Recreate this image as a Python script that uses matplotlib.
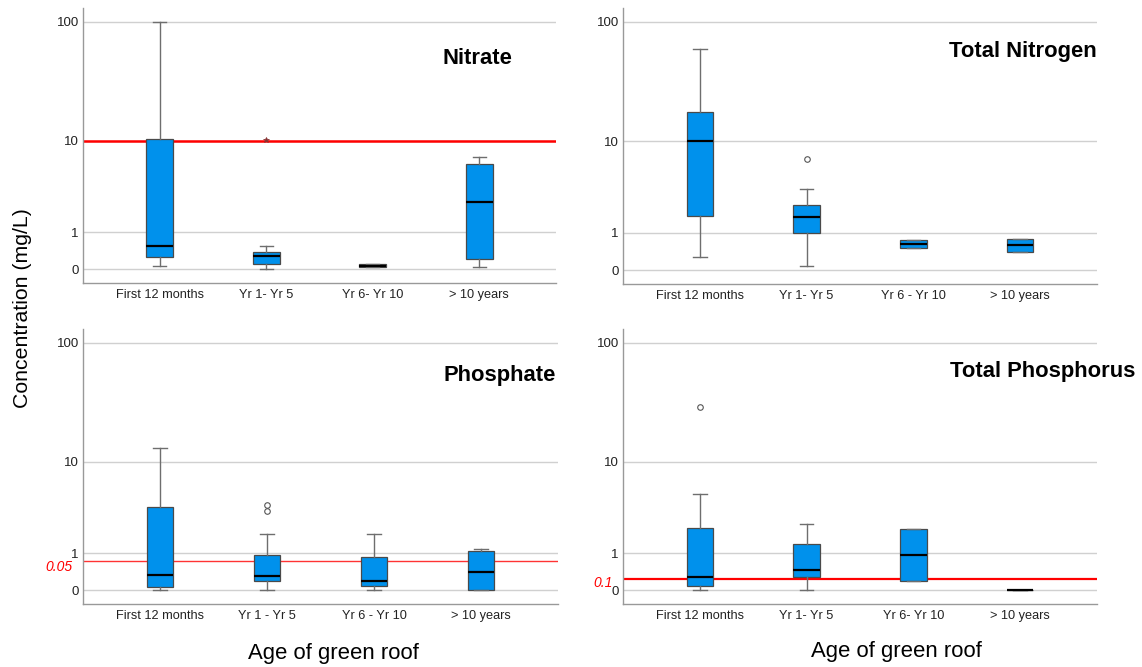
import numpy as np
import matplotlib
matplotlib.use("Agg")
import matplotlib.pyplot as plt

plt.rcParams['font.family'] = ['Liberation Sans', 'DejaVu Sans']

categories_a = ["First 12 months", "Yr 1- Yr 5", "Yr 6- Yr 10", "> 10 years"]
categories_b = ["First 12 months", "Yr 1- Yr 5", "Yr 6 - Yr 10", "> 10 years"]
categories_c = ["First 12 months", "Yr 1 - Yr 5", "Yr 6 - Yr 10", "> 10 years"]
categories_d = ["First 12 months", "Yr 1- Yr 5", "Yr 6- Yr 10", "> 10 years"]

# per group: (whislo, q1, med, q3, whishi)
nitrate = [(0.07, 0.26, 0.53, 10.4, 100.0),
           (0.005, 0.10, 0.27, 0.385, 0.55),
           (0.045, 0.045, 0.071, 0.099, 0.099),
           (0.045, 0.20, 2.48, 6.06, 7.05)]
nitrate_fliers = [[], [10.2], [], []]

total_nitrogen = [(0.278, 1.73, 10.03, 17.9, 59.9),
                  (0.07, 1.0, 1.68, 2.34, 3.51),
                  (0.498, 0.498, 0.622, 0.757, 0.757),
                  (0.392, 0.392, 0.583, 0.80, 0.80)]
total_nitrogen_fliers = [[], [6.87], [], []]

phosphate = [(0.01, 0.071, 0.332, 3.69, 13.1),
             (0.01, 0.198, 0.299, 0.935, 1.88),
             (0.0, 0.084, 0.198, 0.853, 1.88),
             (0.0, 0.0, 0.417, 1.06, 1.14)]
phosphate_fliers = [[], [3.86, 3.40], [], []]

total_phosphorus = [(0.0, 0.091, 0.275, 2.22, 4.97),
                    (0.0, 0.283, 0.47, 1.376, 2.47),
                    (0.19, 0.19, 0.922, 2.12, 2.12),
                    (0.004, 0.004, 0.004, 0.004, 0.004)]
total_phosphorus_fliers = [[29.8], [], [], []]

titles = ["Nitrate", "Total Nitrogen", "Phosphate", "Total Phosphorus"]
limits = [10.0, None, 0.73, 0.236]
limit_labels = [None, None, "0.05", "0.1"]
yticks = [0, 1, 10, 100]

fig = plt.figure(figsize=(11.42, 6.67), dpi=100)
W, H = 1142, 667

def ax_rect(l, t, r, b):
    return [l / W, 1 - b / H, (r - l) / W, (b - t) / H]

rects = [ax_rect(83, 8, 556, 283), ax_rect(623, 8, 1097, 284),
         ax_rect(83, 329, 558, 604), ax_rect(623, 329, 1097, 604)]
datasets = [(nitrate, nitrate_fliers, categories_a),
            (total_nitrogen, total_nitrogen_fliers, categories_b),
            (phosphate, phosphate_fliers, categories_c),
            (total_phosphorus, total_phosphorus_fliers, categories_d)]
title_pos = [(512, 58), (1097, 52), (556, 375), (1135, 371)]
line_styles = [dict(color='#ff0000', lw=1.8), None,
               dict(color='#ff3333', lw=1.0), dict(color='#ff0000', lw=1.6)]
label_pos = [None, None, (73, 567), (613, 583)]

fwd = lambda x: np.log10(np.clip(x, -0.999, None) + 1)
inv = lambda t: 10 ** t - 1

for i, (rect, (stats, fliers, cats)) in enumerate(zip(rects, datasets)):
    ax = fig.add_axes(rect)
    ax.set_yscale('function', functions=(fwd, inv))
    bstats = []
    for (lo, q1, med, q3, hi), fl in zip(stats, fliers):
        bstats.append(dict(whislo=lo, q1=q1, med=med, q3=q3, whishi=hi, fliers=fl))
    pos = np.arange(len(cats))
    if limits[i] is not None:
        ax.axhline(limits[i], zorder=1.5, **line_styles[i])
    if i == 0:
        fprops = dict(marker='*', markersize=4, markerfacecolor='#883333',
                      markeredgecolor='#883333', markeredgewidth=0.5)
    else:
        fprops = dict(marker='o', markersize=4, markerfacecolor='none',
                      markeredgecolor='#555555', markeredgewidth=0.8)
    ax.bxp(bstats, positions=pos, widths=0.25, capwidths=0.125,
           patch_artist=True, showfliers=True,
           boxprops=dict(facecolor='#0091EC', edgecolor='#4a4a4a', lw=0.9),
           medianprops=dict(color='black', lw=1.6),
           whiskerprops=dict(color='#6e6e6e', lw=1.0),
           capprops=dict(color='#6e6e6e', lw=1.0),
           flierprops=fprops,
           zorder=2)
    ax.set_xlim(-0.72, 3.72)
    ax.set_ylim(inv(-0.112), inv(2.117))
    ax.set_xticks(pos)
    ax.set_xticklabels(cats, fontsize=9.2, color='#222222')
    ax.set_yticks(yticks)
    ax.set_yticklabels([str(v) for v in yticks], fontsize=9.5, color='#222222')
    ax.minorticks_off()
    ax.tick_params(axis='both', length=0)
    ax.tick_params(axis='x', pad=4)
    ax.tick_params(axis='y', pad=3)
    ax.grid(axis='y', color='#d0d0d0', lw=1.0, zorder=0)
    ax.set_axisbelow(True)
    for s in ['top', 'right']:
        ax.spines[s].set_visible(False)
    for s in ['left', 'bottom']:
        ax.spines[s].set_color('#999999')
        ax.spines[s].set_linewidth(1.0)
    tx, ty = title_pos[i]
    fig.text(tx / W, 1 - ty / H, titles[i], ha='right', va='center',
             fontsize=15.8, fontweight='bold')
    if limit_labels[i] is not None:
        lx, ly = label_pos[i]
        fig.text(lx / W, 1 - ly / H, limit_labels[i], ha='right', va='center',
                 fontsize=10, color='#ff0000', style='italic')

fig.text(23 / W, 1 - 308 / H, "Concentration (mg/L)", rotation=90,
         ha='center', va='center', fontsize=15.3)
fig.text(333 / W, 1 - 654 / H, "Age of green roof", ha='center', va='center',
         fontsize=15.9)
fig.text(896 / W, 1 - 652 / H, "Age of green roof", ha='center', va='center',
         fontsize=15.9)

fig.savefig("out.png", dpi=100)
